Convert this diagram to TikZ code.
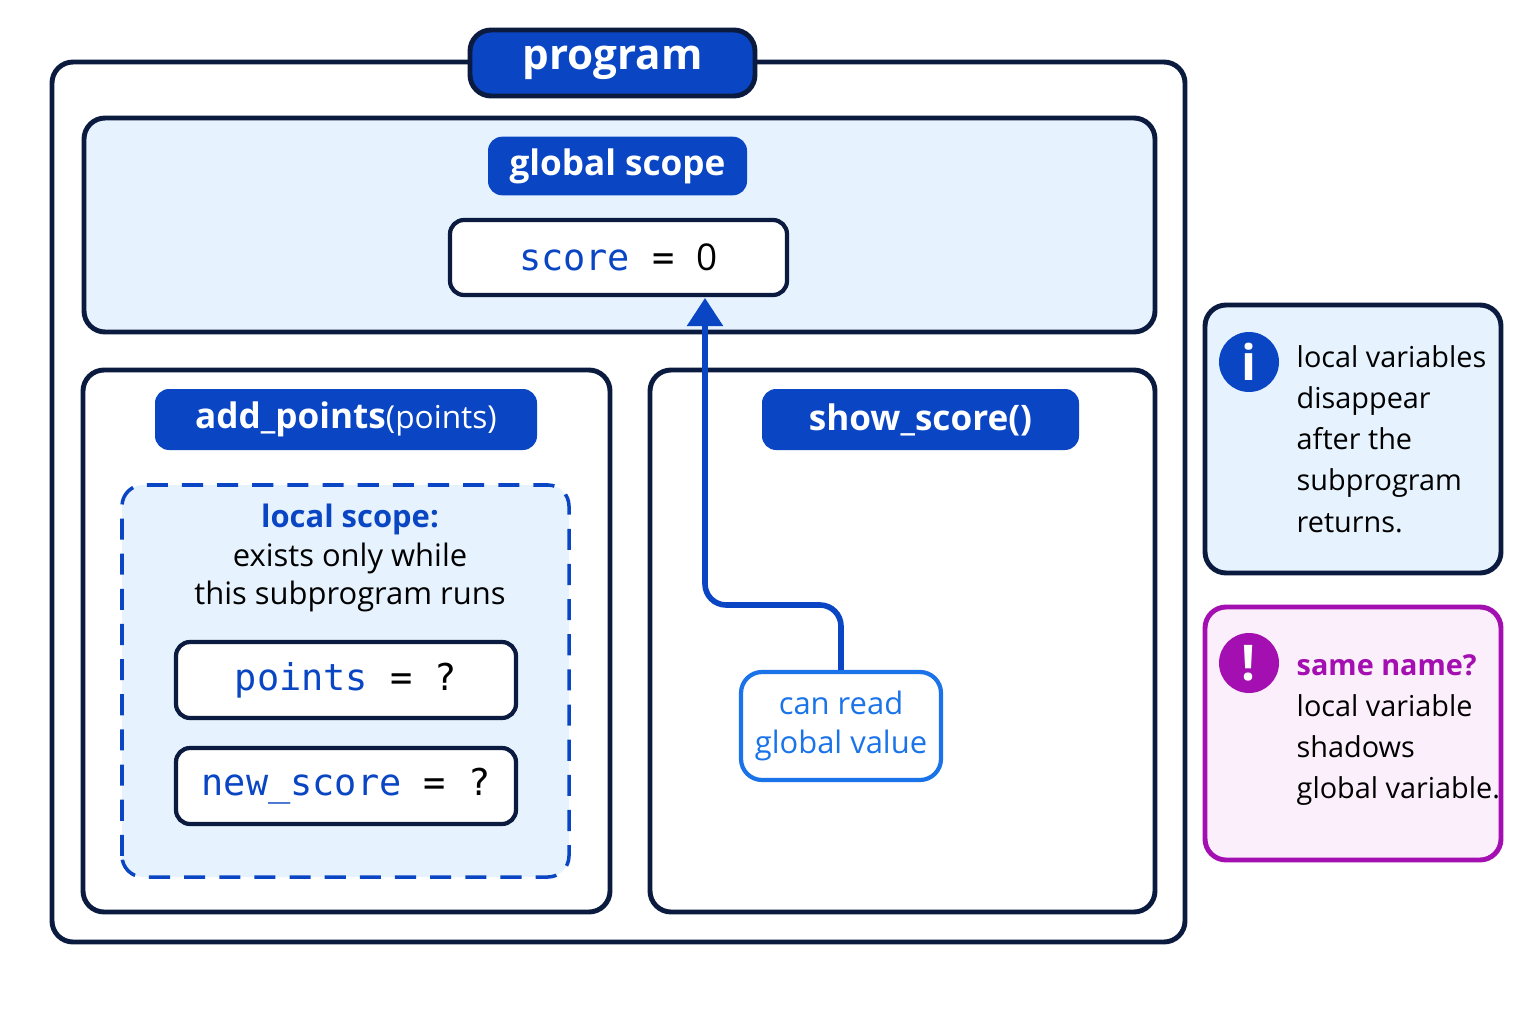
\documentclass[tikz,border=0pt]{standalone}
\usepackage{fontspec}
\setmainfont{Open Sans}
\newfontfamily\codefont{DejaVu Sans Mono}
\usetikzlibrary{arrows.meta}
\definecolor{navy}{HTML}{0B1A3F}
\definecolor{tagblue}{HTML}{0A46C4}
\definecolor{paleblue}{HTML}{E6F2FD}
\definecolor{linkblue}{HTML}{1A73E8}
\definecolor{warnpurple}{HTML}{A30FB0}
\definecolor{palepink}{HTML}{FBEFFB}
\tikzset{
  frame/.style={draw=navy, line width=1.4pt, rounded corners=6pt},
  tag/.style={fill=tagblue, text=white, rounded corners=4pt, font=\fontsize{10}{12}\selectfont\bfseries},
  varbox/.style={draw=navy, line width=1.2pt, fill=white, rounded corners=4pt, font=\codefont\fontsize{10.5}{12}\selectfont},
  note/.style={font=\fontsize{8.2}{11.7}\selectfont, align=left, anchor=north west}
}
\begin{document}
\begin{tikzpicture}
  \useasboundingbox (0,0) rectangle (15.36,10.24);
  % Program frame
  \draw[frame] (0.52,0.82) rectangle (11.85,9.62);
  \node[frame, fill=tagblue, text=white, minimum width=2.85cm, minimum height=0.66cm,
        font=\fontsize{12}{14}\selectfont\bfseries] (program) at (6.125,9.61) {program};

  % Global scope
  \draw[frame, fill=paleblue] (0.84,6.92) rectangle (11.55,9.06);
  \node[tag, minimum width=2.59cm, minimum height=0.58cm] (global) at (6.175,8.58) {global scope};
  \node[varbox, minimum width=3.37cm, minimum height=0.75cm] (score) at (6.185,7.665)
    {\textcolor{tagblue}{score} = \fontspec{Open Sans}0};

  % add_points
  \draw[frame] (0.83,1.12) rectangle (6.10,6.54);
  \node[tag, minimum width=3.82cm, minimum height=0.61cm] (addpts) at (3.46,6.045)
    {add\_points{\mdseries\fontsize{9}{11}\selectfont(points)}};
  \draw[draw=tagblue, line width=1pt, dash pattern=on 6pt off 4pt, fill=paleblue, rounded corners=6pt]
    (1.22,1.47) rectangle (5.69,5.39);
  \node[align=center, font=\fontsize{8.8}{10.9}\selectfont] (local) at (3.5,4.66)
    {\textcolor{tagblue}{\bfseries local scope:}\\exists only while\\this subprogram runs};
  \node[varbox, minimum width=3.40cm, minimum height=0.76cm] (points) at (3.46,3.44)
    {\textcolor{tagblue}{points} = ?};
  \node[varbox, minimum width=3.40cm, minimum height=0.76cm] (newscore) at (3.46,2.38)
    {\textcolor{tagblue}{new\_score} = ?};

  % show_score
  \draw[frame] (6.50,1.12) rectangle (11.55,6.54);
  \node[tag, minimum width=3.17cm, minimum height=0.61cm] (show) at (9.205,6.045) {show\_score()};
  \node[draw=linkblue, line width=1.2pt, rounded corners=6pt, text=linkblue, align=center,
        minimum width=2.0cm, minimum height=1.08cm, font=\fontsize{8.8}{11}\selectfont]
    (canread) at (8.41,2.98) {can read\\global value};
  \coordinate (bend) at (7.05,4.19);
  \coordinate (tip) at (7.05,7.26);
  \draw[tagblue, line width=1.6pt, rounded corners=6pt, -{Triangle[length=8pt,width=10pt]}]
    (canread.north) |- (bend) -- (tip);

  % Info note
  \draw[frame, fill=paleblue] (12.05,4.51) rectangle (15.01,7.19);
  \node[circle, fill=tagblue, text=white, minimum size=0.6cm, inner sep=0pt,
        font=\fontsize{14}{14}\selectfont\bfseries] (info) at (12.49,6.62) {i};
  \node[note, inner sep=0pt] (infotxt) at (12.96,6.79)
    {local variables\\disappear\\after the\\subprogram\\returns.};

  % Warning note
  \draw[draw=warnpurple, line width=1.4pt, rounded corners=6pt, fill=palepink] (12.05,1.64) rectangle (15.01,4.17);
  \node[circle, fill=warnpurple, text=white, minimum size=0.6cm, inner sep=0pt,
        font=\fontsize{14}{14}\selectfont\bfseries] (warn) at (12.49,3.61) {!};
  \node[note, inner sep=0pt] (warntxt) at (12.96,3.70)
    {\textcolor{warnpurple}{\bfseries same name?}\\local variable\\shadows\\global variable.};
\end{tikzpicture}
\end{document}
